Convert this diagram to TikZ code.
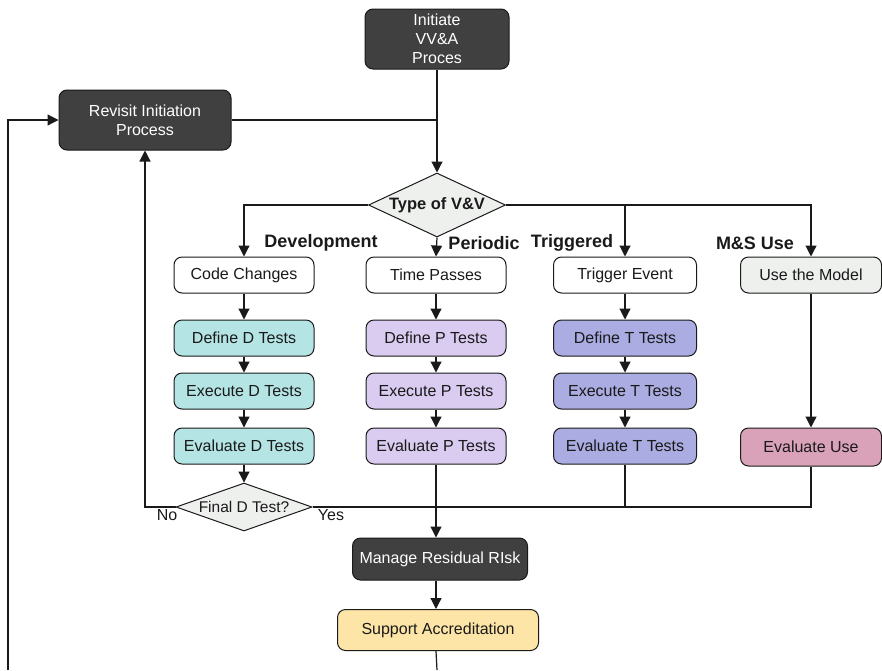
\documentclass[tikz,border=0pt]{standalone}
\usepackage{fontspec}
\setmainfont{Liberation Sans}
\usetikzlibrary{arrows.meta,shapes.geometric}

\definecolor{darkfill}{HTML}{404040}
\definecolor{paleg}{HTML}{EEF0EE}
\definecolor{dcol}{HTML}{B4E4E3}
\definecolor{pcol}{HTML}{DACBF0}
\definecolor{tcol}{HTML}{AAACE2}
\definecolor{ucol}{HTML}{D9A2B9}
\definecolor{acol}{HTML}{FDE5A8}
\definecolor{ink}{HTML}{1A1A1A}

\tikzset{
  box/.style={draw=ink, line width=1pt, rounded corners=8pt, fill=white,
    minimum width=140pt, minimum height=36pt, inner sep=0pt,
    font=\fontsize{16}{19}\selectfont, text=ink, align=center},
  darkbox/.style={box, fill=darkfill, text=white},
  decision/.style={diamond, draw=ink, line width=1pt, fill=paleg, inner sep=0pt,
    text=ink, align=center},
  branchlabel/.style={font=\bfseries\fontsize{18}{21}\selectfont, text=ink},
  plainlabel/.style={font=\fontsize{16}{19}\selectfont, text=ink},
  arr/.style={draw=ink, line width=1.2pt, -{Triangle[length=11pt,width=11pt]}},
  ln/.style={draw=ink, line width=1.2pt}
}

\begin{document}
\begin{tikzpicture}[x=1pt,y=-1pt]
\useasboundingbox (0,0) rectangle (882,670);

% start and restart boxes
\node[darkbox, minimum width=144pt, minimum height=60pt] (init) at (437,39) {Initiate\\VV\&A\\Proces};
\node[darkbox, minimum width=172pt, minimum height=60pt] (revisit) at (145,120) {Revisit Initiation\\Process};

% branching decision
\node[decision, minimum width=137pt, minimum height=64pt, aspect=2.14,
  font=\bfseries\fontsize{16.5}{19}\selectfont] (vv) at (437,205) {Type of V\&V};

% triggers
\node[box] (code) at (244,275) {Code Changes};
\node[box] (time) at (436,275) {Time Passes};
\node[box, minimum width=143pt] (trig) at (625,275) {Trigger Event};
\node[box, fill=paleg, minimum width=141pt] (use) at (811,275) {Use the Model};

% development column
\node[box, fill=dcol] (defD) at (244,338) {Define D Tests};
\node[box, fill=dcol] (exeD) at (244,391) {Execute D Tests};
\node[box, fill=dcol] (evaD) at (244,446) {Evaluate D Tests};

% periodic column
\node[box, fill=pcol] (defP) at (436,338) {Define P Tests};
\node[box, fill=pcol] (exeP) at (436,391) {Execute P Tests};
\node[box, fill=pcol] (evaP) at (436,446) {Evaluate P Tests};

% triggered column
\node[box, fill=tcol, minimum width=143pt] (defT) at (625,338) {Define T Tests};
\node[box, fill=tcol, minimum width=143pt] (exeT) at (625,391) {Execute T Tests};
\node[box, fill=tcol, minimum width=143pt] (evaT) at (625,446) {Evaluate T Tests};

% model use
\node[box, fill=ucol, minimum width=141pt, minimum height=38pt] (evaU) at (811,447) {Evaluate Use};

% final development decision
\node[decision, minimum width=136pt, minimum height=48pt, aspect=2.8,
  font=\fontsize{15.5}{18}\selectfont] (fin) at (244,507) {Final D Test?};

% closing steps
\node[darkbox, minimum width=175pt, minimum height=42pt] (manage) at (440,559) {Manage Residual RIsk};
\node[box, fill=acol, minimum width=201pt, minimum height=41pt] (support) at (438,630) {Support Accreditation};

% branch labels
\node[branchlabel] (lD) at (321,243) {Development};
\node[branchlabel] (lP) at (484,243) {Periodic};
\node[branchlabel] (lT) at (572,243) {Triggered};
\node[branchlabel] (lU) at (755,243) {M\&S Use};
\node[plainlabel] (lNo) at (167,515) {No};
\node[plainlabel] (lYes) at (331,515) {Yes};

% free ends at the lower edge
\coordinate (loopL) at (8,670);
\coordinate (loopR) at (437,670);

% top flow
\draw[arr] (init.south) -- (vv.north);
\draw[ln] (revisit.east) -- (revisit.east -| init.south);
\draw[arr] (loopL) |- (revisit.west);

% branches out of the decision
\draw[arr] (vv.west) -| (code.north);
\draw[arr] (vv.south) -- (time.north);
\draw[arr] (vv.east) -| (trig.north);
\draw[arr] (vv.east) -| (use.north);

% column chains
\draw[arr] (code) -- (defD);
\draw[arr] (defD) -- (exeD);
\draw[arr] (exeD) -- (evaD);
\draw[arr] (time) -- (defP);
\draw[arr] (defP) -- (exeP);
\draw[arr] (exeP) -- (evaP);
\draw[arr] (trig) -- (defT);
\draw[arr] (defT) -- (exeT);
\draw[arr] (exeT) -- (evaT);
\draw[arr] (use) -- (evaU);

% development loop
\draw[arr] (evaD) -- (fin);
\draw[arr] (fin.west) -| (revisit.south);

% joining the columns
\draw[ln] (fin.east) -| (evaU.south);
\draw[ln] (evaT.south) -- (evaT.south |- fin.east);
\draw[arr] (evaP.south) -- (evaP.south |- manage.north);
\draw[arr] (manage.south -| evaP.south) -- (support.north -| evaP.south);
\draw[ln] (support.south -| evaP.south) -- (loopR);
\end{tikzpicture}
\end{document}
